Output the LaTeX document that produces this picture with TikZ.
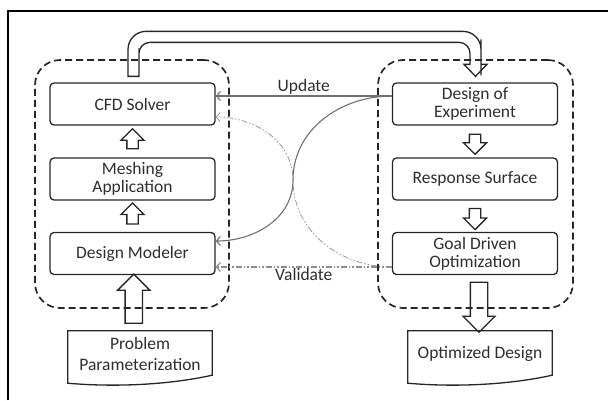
\documentclass[tikz,border=0pt]{standalone}
\usepackage{fontspec}
\setmainfont{Carlito}
\usetikzlibrary{shapes.arrows, arrows.meta, calc}

\definecolor{txtgray}{HTML}{2E2E2E}
\definecolor{updgray}{HTML}{707070}
\definecolor{valgray}{HTML}{8C8C8C}
\newcommand{\dgfont}{\fontsize{17.5}{17.7}\selectfont}

\tikzset{
  stage/.style={draw=black!85, line width=1.3pt, rounded corners=4pt, minimum width=165pt, minimum height=42pt, inner sep=2pt, align=center, text=txtgray, font=\dgfont},
  group/.style={draw=black!85, line width=1.7pt, dash pattern=on 7pt off 4pt, rounded corners=25pt, minimum width=#1, minimum height=248pt},
  paper/.style={minimum width=144pt, minimum height=46pt, inner sep=0pt, align=center, text=txtgray, font=\dgfont},
  paperline/.style={draw=black!85, line width=1.3pt},
  hollow/.style 2 args={single arrow, draw=black!85, line width=1.3pt, inner xsep=0pt, inner ysep=#1, single arrow head extend=#2, single arrow head indent=0pt, minimum width=0pt},
  feed/.style={updgray, line width=1.1pt, -{Straight Barb[length=4pt,width=9pt]}},
  check/.style={valgray, line width=1.2pt, dash pattern=on 6pt off 2pt on 1.5pt off 2pt on 1.5pt off 2pt, -{Straight Barb[length=4pt,width=9pt]}},
  tube/.style={draw=black!85, line width=1.3pt},
  lbl/.style={text=txtgray, font=\dgfont, inner sep=1pt},
}

\begin{document}
\begin{tikzpicture}[x=1pt, y=-1pt]
	\useasboundingbox (0,0) rectangle (608,400);
	\draw[line width=1.4pt] (8,400) |- (608,11);
	%
	% groups
	\node[group=194pt] (lgrp) at (132,184) {};
	\node[group=195pt] (rgrp) at (475.5,184) {};
	%
	% left column
	\node[stage] (cfd) at (132.5,104) {CFD Solver};
	\node[stage] (mesh) at (132.5,179) {Meshing\\Application};
	\node[stage] (dm) at (132.5,253.5) {Design Modeler};
	\node[hollow={5pt}{6pt}, rotate=90, minimum height=20pt] (up1) at ($(cfd.south)!0.5!(mesh.north)$) {};
	\node[hollow={5pt}{6pt}, rotate=90, minimum height=21pt] (up2) at ($(mesh.south)!0.5!(dm.north)$) {};
	%
	% right column
	\node[stage] (doe) at (475,104) {Design of\\Experiment};
	\node[stage] (rs) at (475,179) {Response Surface};
	\node[stage] (gdo) at (475,253.5) {Goal Driven\\Optimization};
	\node[hollow={5pt}{6pt}, rotate=-90, minimum height=20pt] (dn1) at ($(doe.south)!0.5!(rs.north)$) {};
	\node[hollow={5pt}{6pt}, rotate=-90, minimum height=21pt] (dn2) at ($(rs.south)!0.5!(gdo.north)$) {};
	%
	% input / output documents
	\node[paper] (pp) at (140,354) {Problem\\[3pt]Parameterization};
	\draw[paperline] (pp.north west) -- (pp.north east) -- ($(pp.south east)+(0,-2)$) .. controls ($(pp.south east)+(-45,8)$) and ($(pp.south west)+(45,10)$) .. ($(pp.south west)+(0,6)$) -- cycle;
	\node[paper] (od) at (480,354) {Optimized Design};
	\draw[paperline] (od.north west) -- (od.north east) -- ($(od.south east)+(0,-2)$) .. controls ($(od.south east)+(-45,8)$) and ($(od.south west)+(45,10)$) .. ($(od.south west)+(0,6)$) -- cycle;
	\node[hollow={8pt}{7.5pt}, rotate=90, minimum height=49pt] (bigup) at ($(pp.north)!0.5!(dm.south)+(-2.5,0)$) {};
	\node[hollow={8pt}{7.5pt}, rotate=-90, minimum height=50pt] (bigdn) at ($(gdo.south)!0.5!(od.north)+(1.5,0)$) {};
	%
	% feedback lines, crossing at swap
	\coordinate (swap) at (293,180);
	\draw[feed] ([yshift=8pt]doe.west) -- node[lbl, above] {Update} ([yshift=8pt]cfd.east);
	\draw[feed] ([yshift=8pt]doe.west) to[out=180, in=90] (swap) to[out=-90, in=0] ([yshift=12.5pt]dm.east);
	\draw[check] ([yshift=-13.5pt]gdo.west) -- node[lbl, below] {Validate} ([yshift=-13.5pt]dm.east);
	\draw[check, line width=0.8pt, black!40] ([yshift=-13.5pt]gdo.west) to[out=180, in=-90] (swap) to[out=90, in=0] ([yshift=-13pt]cfd.east);
	%
	% transfer tube from CFD Solver to Design of Experiment
	\coordinate (tubeA) at ($(cfd.north)+(1,-6)$);
	\coordinate (tubeB) at ($(doe.north)+(0.5,-6)$);
	\draw[tube] ($(tubeA)+(-5.5,0)$) -- ($(tubeA)+(-5.5,-17)$) [rounded corners=18pt] -- ($(tubeA)+(-5.5,-45)$) -- ($(tubeB)+(5.5,-45)$) -- ($(tubeB)+(5.5,-19)$) [sharp corners] -- ($(tubeB)+(5.5,-12)$) -- ($(tubeB)+(11.5,-12)$) -- (tubeB) -- ($(tubeB)+(-11.5,-12)$) -- ($(tubeB)+(-5.5,-12)$) -- ($(tubeB)+(-5.5,-17)$) [rounded corners=11pt] -- ($(tubeB)+(-5.5,-34)$) -- ($(tubeA)+(5.5,-34)$) -- ($(tubeA)+(5.5,-17)$) [sharp corners] -- ($(tubeA)+(5.5,0)$) -- cycle;
\end{tikzpicture}
\end{document}
